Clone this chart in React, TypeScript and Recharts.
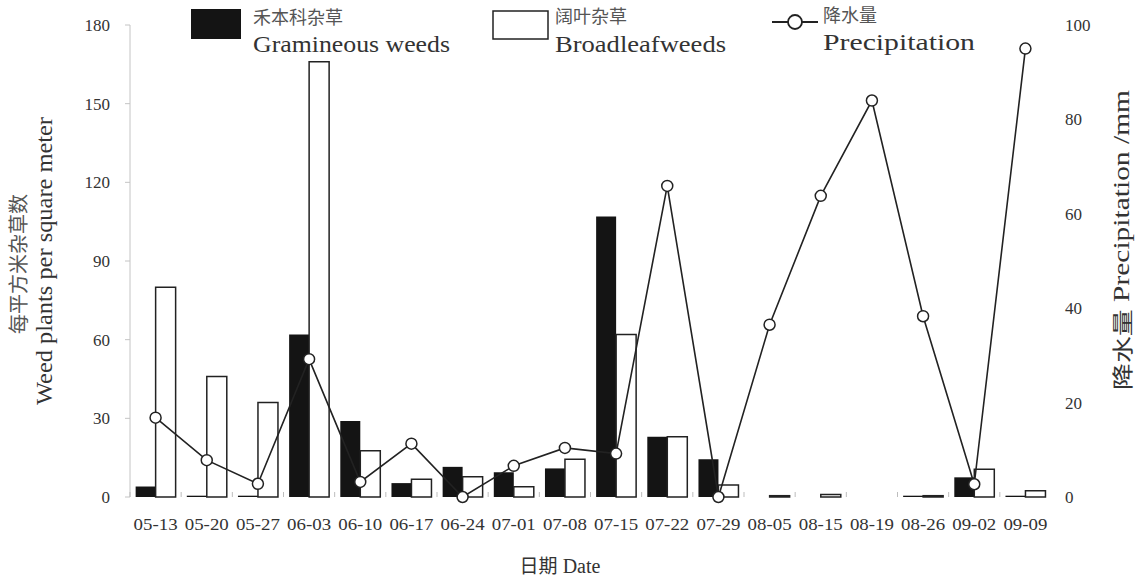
import React from 'react';
import { ComposedChart, Bar, Line, XAxis, YAxis, Legend } from 'recharts';

const dates = ['05-13', '05-20', '05-27', '06-03', '06-10', '06-17', '06-24', '07-01', '07-08', '07-15', '07-22', '07-29', '08-05', '08-15', '08-19', '08-26', '09-02', '09-09'];
const gramineous = [4, 0.5, 0.5, 62, 29, 5.3, 11.5, 9.4, 10.9, 107, 23, 14.4, 0, 0, 0, 0.5, 7.5, 0.5];
const broadleaf = [80, 46, 36, 166, 17.6, 6.8, 7.7, 3.9, 14.4, 62, 23, 4.6, 0.5, 1, 0, 0.5, 10.6, 2.4];
const precipitation = [16.8, 7.8, 2.8, 29.2, 3.2, 11.3, 0, 6.6, 10.4, 9.2, 65.9, 0, 36.5, 63.8, 84, 38.3, 2.7, 95];
const leftTicks = [0, 30, 60, 90, 120, 150, 180];
const rightTicks = [0, 20, 40, 60, 80, 100];

const data = dates.map((d, i) => ({ date: d, g: gramineous[i], b: broadleaf[i], p: precipitation[i] }));

const SERIF = '"Liberation Serif", "DejaVu Serif", serif';
const CJK = '"Noto Sans CJK SC", sans-serif';

const XTick = (props: any) => {
  const { x, y, payload } = props;
  const off = payload && payload.offset ? payload.offset : 0;
  return (
    <g>
      <line x1={x - off} x2={x - off} y1={y - 26} y2={y - 21} stroke="#bdbdbd" strokeWidth={1} />
      <text x={x} y={y} dy="0.71em" textAnchor="middle" fontSize={17} fill="#333" fontFamily={SERIF} textLength={44} lengthAdjust="spacingAndGlyphs">
        {payload.value}
      </text>
    </g>
  );
};

const LegendContent = () => (
  <svg width={1141} height={60} style={{ display: 'block' }}>
    <rect x={191} y={9} width={50} height={30} fill="#141414" />
    <text x={253} y={19} dominantBaseline="middle" fontSize={18} fill="#555" fontFamily={CJK}>禾本科杂草</text>
    <text x={253} y={46} dominantBaseline="middle" fontSize={24} fill="#333" fontFamily={SERIF} textLength={197} lengthAdjust="spacingAndGlyphs">Gramineous weeds</text>
    <rect x={493} y={11} width={55} height={28} fill="#fff" stroke="#222" strokeWidth={1.5} />
    <text x={555} y={18} dominantBaseline="middle" fontSize={18} fill="#555" fontFamily={CJK}>阔叶杂草</text>
    <text x={555} y={46} dominantBaseline="middle" fontSize={24} fill="#333" fontFamily={SERIF} textLength={171} lengthAdjust="spacingAndGlyphs">Broadleafweeds</text>
    <line x1={772} x2={818} y1={22} y2={22} stroke="#222" strokeWidth={1.8} />
    <circle cx={795} cy={22} r={7} fill="#fff" stroke="#222" strokeWidth={1.8} />
    <text x={823} y={17} dominantBaseline="middle" fontSize={18} fill="#555" fontFamily={CJK}>降水量</text>
    <text x={823} y={44} dominantBaseline="middle" fontSize={24} fill="#333" fontFamily={SERIF} textLength={152} lengthAdjust="spacingAndGlyphs">Precipitation</text>
  </svg>
);

const LeftTitle = () => (
  <g>
    <text x={21} y={264} transform="rotate(-90 21 264)" textAnchor="middle" dominantBaseline="middle" fontSize={20} fill="#555" fontFamily={CJK}>每平方米杂草数</text>
    <text x={47} y={261} transform="rotate(-90 47 261)" textAnchor="middle" dominantBaseline="middle" fontSize={23} fill="#333" fontFamily={SERIF} textLength={288} lengthAdjust="spacingAndGlyphs">Weed plants per square meter</text>
  </g>
);

const RightTitle = () => (
  <text x={1124} y={240} transform="rotate(-90 1124 240)" textAnchor="middle" dominantBaseline="middle" fontSize={23} fill="#333" fontFamily={SERIF} textLength={300} lengthAdjust="spacingAndGlyphs">
    <tspan fontFamily={CJK} fontSize={21}>降水量</tspan>
    <tspan> Precipitation /mm</tspan>
  </text>
);

const BottomTitle = () => (
  <text x={560} y={568} textAnchor="middle" dominantBaseline="middle" fontSize={20} fill="#333" fontFamily={SERIF}>
    <tspan fontFamily={CJK} fontSize={19}>日期</tspan>
    <tspan> Date</tspan>
  </text>
);

export default function App() {
  return (
    <div style={{ position: 'absolute', left: 0, top: 0, width: 1141, height: 581, background: '#fff' }}>
      <ComposedChart
        width={1141}
        height={581}
        data={data}
        margin={{ top: 25, right: 0, bottom: 0, left: 0 }}
        barCategoryGap="11%"
        barGap={0}
      >
        <XAxis
          dataKey="date"
          height={84}
          axisLine={false}
          tickLine={false}
          tickSize={0}
          tickMargin={21}
          interval={0}
          tick={<XTick />}
          label={{ content: () => <BottomTitle /> }}
        />
        <YAxis
          yAxisId="left"
          orientation="left"
          width={130}
          domain={[0, 180]}
          ticks={leftTicks}
          interval={0}
          axisLine={{ stroke: '#c4c4c4', strokeWidth: 1 }}
          tickLine={{ stroke: '#c4c4c4', strokeWidth: 1 }}
          tickSize={5}
          tickMargin={15}
          tick={{ fontSize: 17, fill: '#333', fontFamily: SERIF }}
          label={{ content: () => <LeftTitle /> }}
        />
        <YAxis
          yAxisId="right"
          orientation="right"
          width={90}
          domain={[0, 100]}
          ticks={rightTicks}
          interval={0}
          axisLine={false}
          tickLine={false}
          tickSize={0}
          tickMargin={14}
          tick={{ fontSize: 17, fill: '#333', fontFamily: SERIF, textAnchor: 'start' }}
          label={{ content: () => <RightTitle /> }}
        />
        <Legend
          layout="vertical"
          align="center"
          verticalAlign="middle"
          wrapperStyle={{ top: 0, left: 0, width: 1141, height: 60 }}
          content={() => <LegendContent />}
        />
        <Bar yAxisId="left" dataKey="g" name="禾本科杂草 Gramineous weeds" fill="#141414" isAnimationActive={false} />
        <Bar yAxisId="left" dataKey="b" name="阔叶杂草 Broadleafweeds" fill="#ffffff" stroke="#222" strokeWidth={1.5} isAnimationActive={false} />
        <Line
          yAxisId="right"
          dataKey="p"
          name="降水量 Precipitation"
          stroke="#222"
          strokeWidth={1.6}
          dot={{ r: 5.5, fill: '#fff', stroke: '#222', strokeWidth: 1.5 }}
          activeDot={false}
          isAnimationActive={false}
        />
      </ComposedChart>
    </div>
  );
}
